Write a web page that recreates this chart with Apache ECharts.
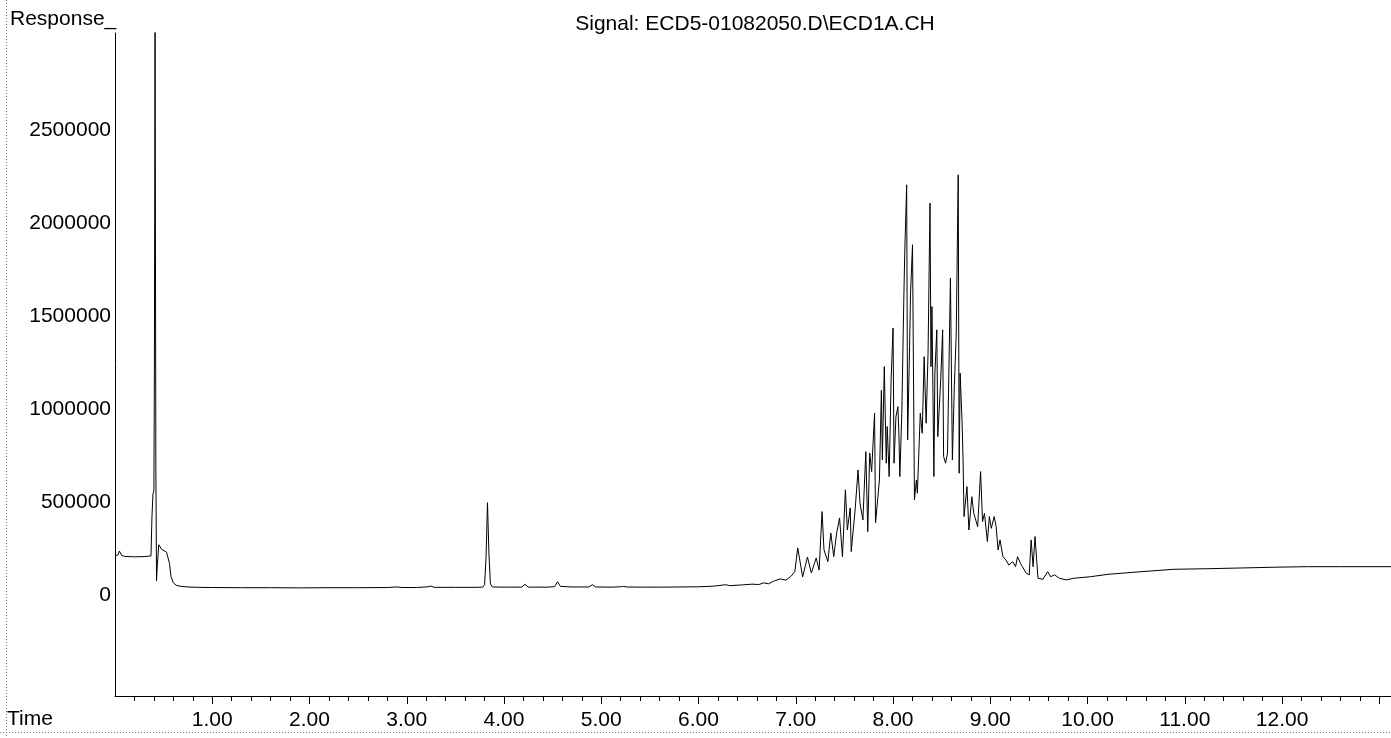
<!DOCTYPE html>
<html>
<head>
<meta charset="utf-8">
<script src="https://cdn.jsdelivr.net/npm/echarts@6/dist/echarts.min.js"></script>
<style>
html,body{margin:0;padding:0;background:#fff;}
#chart{width:1391px;height:738px;}
</style>
</head>
<body>
<div id="chart"></div>
<script>
// Retention time (min)
const times = [
  0.00, 0.03, 0.045, 0.07, 0.10, 0.20, 0.30, 0.37, 0.38, 0.39, 0.40, 0.405, 0.412, 0.42, 0.427, 0.435, 0.45, 0.46, 0.48, 0.50, 0.53, 0.545, 0.56, 0.575, 0.60, 0.63, 0.68, 0.75, 0.85,
  1.00, 1.30, 1.60, 1.90, 2.20, 2.50, 2.80, 2.90, 2.95, 3.10, 3.22, 3.25, 3.28, 3.50, 3.70, 3.78, 3.80, 3.815, 3.83, 3.845, 3.86, 3.88,
  4.00, 4.18, 4.215, 4.25, 4.45, 4.52, 4.55, 4.58, 4.70, 4.87, 4.91, 4.94, 5.10, 5.20, 5.23, 5.26, 5.40, 5.60, 5.82,
  6.00, 6.15, 6.28, 6.32, 6.45, 6.55, 6.62, 6.67, 6.72, 6.78, 6.84, 6.90, 6.95, 6.99,
  7.02, 7.07, 7.12, 7.16, 7.21, 7.24, 7.27, 7.29, 7.33, 7.36, 7.39, 7.42, 7.45, 7.48, 7.51, 7.53, 7.56, 7.57, 7.61, 7.64, 7.66, 7.69, 7.72, 7.74, 7.76, 7.78, 7.81, 7.82, 7.86, 7.88, 7.89, 7.91, 7.93, 7.94, 7.96, 7.98,
  8.00, 8.01, 8.03, 8.05, 8.06, 8.07, 8.09, 8.11, 8.12, 8.14, 8.15, 8.17, 8.18, 8.20, 8.22, 8.24, 8.25, 8.28, 8.30, 8.32, 8.34, 8.36, 8.38, 8.39, 8.40, 8.42, 8.43, 8.45, 8.46, 8.49, 8.51, 8.52, 8.54, 8.56, 8.59, 8.61, 8.63, 8.65, 8.67, 8.68, 8.69, 8.71, 8.72, 8.73, 8.76, 8.78, 8.81, 8.83, 8.87, 8.90, 8.92, 8.94, 8.97, 8.99,
  9.01, 9.04, 9.06, 9.08, 9.10, 9.13, 9.16, 9.19, 9.23, 9.26, 9.28, 9.31, 9.33, 9.37, 9.40, 9.42, 9.44, 9.46, 9.49, 9.54, 9.59, 9.62, 9.66, 9.71, 9.78, 9.86,
  10.03, 10.21, 10.55, 10.89, 11.23, 11.58, 11.92, 12.26, 12.60, 13.12
];
// Detector response
const responses = [
  210000, 215000, 236000, 212000, 207000, 205000, 206000, 210000, 420000, 540000, 560000, 1200000, 3050000, 700000, 75000, 160000, 270000, 262000, 245000, 238000, 230000, 222000, 170000, 100000, 65000, 52000, 46000, 43000, 41000,
  40000, 39000, 39000, 38000, 39000, 39000, 40000, 43000, 40000, 40000, 44000, 48000, 41000, 41000, 41000, 42000, 55000, 200000, 496000, 220000, 60000, 43000,
  42000, 42000, 57000, 42000, 42000, 45000, 71000, 46000, 43000, 43000, 55000, 43000, 42000, 44000, 46000, 43000, 42000, 42000, 43000,
  44000, 47000, 55000, 50000, 54000, 58000, 56000, 65000, 60000, 76000, 86000, 80000, 100000, 125000,
  253000, 97000, 204000, 118000, 199000, 134000, 448000, 242000, 179000, 333000, 206000, 333000, 414000, 206000, 565000, 349000, 468000, 233000, 457000, 672000, 493000, 403000, 770000, 340000, 763000, 663000, 977000, 387000, 618000, 1100000, 726000, 1227000, 708000, 905000, 636000, 1156000,
  1434000, 708000, 959000, 1012000, 869000, 636000, 977000, 1568000, 1837000, 2204000, 833000, 1335000, 1622000, 1882000, 511000, 618000, 547000, 977000, 869000, 1281000, 923000, 1299000, 2106000, 1227000, 1550000, 636000, 1192000, 1425000, 851000, 1156000, 1425000, 744000, 708000, 762000, 1703000, 726000, 1120000, 1407000, 2258000, 654000, 1192000, 923000, 726000, 421000, 582000, 349000, 528000, 439000, 367000, 663000, 394000, 439000, 287000, 421000,
  358000, 421000, 367000, 242000, 296000, 206000, 188000, 161000, 179000, 152000, 206000, 170000, 152000, 117000, 108000, 296000, 152000, 314000, 90000, 84000, 125000, 98000, 108000, 90000, 81000, 90000,
  98000, 111000, 125000, 138000, 141000, 145000, 149000, 152000, 152000, 152000
];
const xLabelValues = [1, 2, 3, 4, 5, 6, 7, 8, 9, 10, 11, 12];
const xMajorTickValues = [1, 2, 3, 4, 5, 6, 7, 8, 9, 10, 11, 12, 13];
const yLabelValues = [0, 500000, 1000000, 1500000, 2000000, 2500000];
const titleText = 'Signal: ECD5-01082050.D\\ECD1A.CH';
const yAxisName = 'Response_';
const xAxisName = 'Time';

const X_MIN = 0, X_MAX = 13.12, Y_MIN = -543000, Y_MAX = 3020000;
const xMinorTickValues = [];
for (let i = 0; i <= 65; i++) { if (i % 5 !== 0) xMinorTickValues.push(i / 5); }

const FONT = '"Liberation Sans", Arial, sans-serif';
const seriesData = times.map((t, i) => [t, responses[i]]);

const chart = echarts.init(document.getElementById('chart'), null, {renderer: 'canvas'});
chart.setOption({
  animation: false,
  backgroundColor: '#fff',
  grid: {left: 115, right: 0, top: 33, bottom: 42, containLabel: false},
  xAxis: [
    {
      type: 'value', min: X_MIN, max: X_MAX, position: 'bottom',
      axisLine: {show: true, onZero: false, lineStyle: {color: '#000', width: 1}},
      axisTick: {show: true, customValues: xMajorTickValues, length: 8, lineStyle: {color: '#000', width: 1}},
      axisLabel: {show: true, customValues: xLabelValues, formatter: v => v.toFixed(2), color: '#000', fontSize: 21, fontFamily: FONT, margin: 14},
      splitLine: {show: false}
    },
    {
      type: 'value', min: X_MIN, max: X_MAX, position: 'bottom',
      axisLine: {show: false, onZero: false},
      axisTick: {show: true, customValues: xMinorTickValues, length: 5, lineStyle: {color: '#000', width: 1}},
      axisLabel: {show: false},
      splitLine: {show: false}
    }
  ],
  yAxis: {
    type: 'value', min: Y_MIN, max: Y_MAX,
    axisLine: {show: true, onZero: false, lineStyle: {color: '#000', width: 1}},
    axisTick: {show: false},
    axisLabel: {show: true, customValues: yLabelValues, formatter: v => String(v), color: '#000', fontSize: 21, fontFamily: FONT, margin: 4},
    splitLine: {show: false}
  },
  series: [{
    type: 'line', xAxisIndex: 0, yAxisIndex: 0, data: seriesData,
    showSymbol: false, symbol: 'none', clip: true, sampling: null,
    lineStyle: {color: '#000', width: 1}
  }],
  graphic: [
    {type: 'line', shape: {x1: 6.5, y1: 0, x2: 6.5, y2: 738}, style: {stroke: '#777', lineWidth: 1, lineDash: [1, 2]}, silent: true},
    {type: 'line', shape: {x1: 0, y1: 732.5, x2: 1391, y2: 732.5}, style: {stroke: '#777', lineWidth: 1, lineDash: [1, 2]}, silent: true},
    {type: 'text', x: 10, y: 9, style: {text: yAxisName, font: '21px ' + FONT, fill: '#000', verticalAlign: 'top'}},
    {type: 'text', x: 755, y: 14, style: {text: titleText, font: '21px ' + FONT, fill: '#000', align: 'center', verticalAlign: 'top'}},
    {type: 'text', x: 7, y: 709, style: {text: xAxisName, font: '21px ' + FONT, fill: '#000', verticalAlign: 'top'}}
  ]
});
</script>
</body>
</html>
